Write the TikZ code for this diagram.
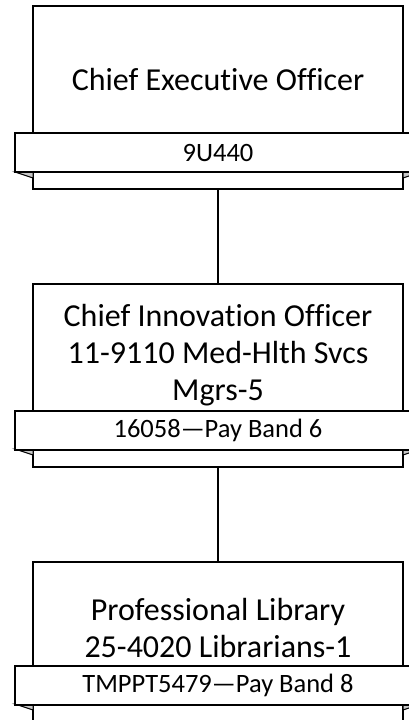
\documentclass[tikz,border=0pt]{standalone}
\usepackage{fontspec}
\setmainfont{Carlito}[Ligatures={NoCommon}]
\tikzset{
  card/.style={draw=black, line width=1.4pt, fill=white, rectangle, inner sep=0pt},
  band/.style={draw=black, line width=1.4pt, fill=white, rectangle, inner sep=0pt, minimum width=406pt, minimum height=39pt, font=\fontsize{26.5}{30}\selectfont},
  fold/.style={draw=black, line width=1pt, fill=black!22},
  title/.style={align=center, inner sep=0pt, font=\fontsize{32}{37}\selectfont},
  link/.style={draw=black, line width=1.4pt}
}
\begin{document}
\begin{tikzpicture}[x=1pt,y=-1pt]
\useasboundingbox (0,0) rectangle (409,720);
\clip (0,0) rectangle (409,720);
% cards
\node[card, minimum width=370pt, minimum height=183pt] (c1) at (218,97.5) {};
\node[card, minimum width=370pt, minimum height=183pt] (c2) at (218,375.5) {};
\node[card, minimum width=370pt, minimum height=160pt] (c3) at (218,642) {};
% connectors
\draw[link] (c1.south) -- (c2.north);
\draw[link] (c2.south) -- (c3.north);
% folds
\draw[fold] (15,172) -- (33,172) -- (33,178) -- cycle;
\draw[fold] (421,172) -- (403,172) -- (403,178) -- cycle;
\draw[fold] (15,449) -- (33,449) -- (33,455) -- cycle;
\draw[fold] (421,449) -- (403,449) -- (403,455) -- cycle;
\draw[fold] (15,704) -- (33,704) -- (33,710) -- cycle;
\draw[fold] (421,704) -- (403,704) -- (403,710) -- cycle;
% bands
\node[band] (b1) at (218,152.5) {9U440};
\node[band] (b2) at (218,430.5) {16058—Pay Band 6};
\node[band] (b3) at (218,685.5) {TMPPT5479—Pay Band 8};
% titles
\node[title] (t1) at (218,80) {Chief Executive Officer};
\node[title] (t2) at (218,355) {Chief Innovation Officer\\11-9110 Med-Hlth Svcs\\Mgrs-5};
\node[title] (t3) at (218,628) {Professional Library\\25-4020 Librarians-1};
\end{tikzpicture}
\end{document}
